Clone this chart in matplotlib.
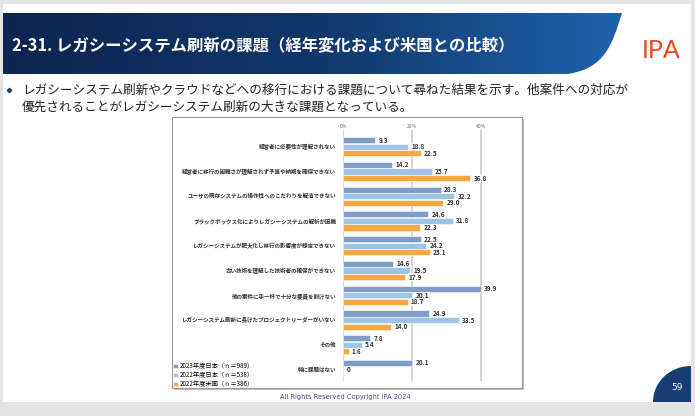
import matplotlib.pyplot as plt
import numpy as np
from matplotlib.patches import Rectangle, PathPatch, Polygon
from matplotlib.path import Path
from matplotlib.colors import LinearSegmentedColormap

plt.rcParams["font.family"] = ["Noto Sans CJK JP", "DejaVu Sans"]

# ---- data ----
categories = [
    "経営者に必要性が理解されない",
    "経営者に移行の困難さが理解されず予算や納期を確保できない",
    "ユーザの既存システムの操作性へのこだわりを解消できない",
    "ブラックボックス化によりレガシーシステムの解析が困難",
    "レガシーシステムが肥大化し移行の影響度が想定できない",
    "古い技術を理解した技術者の確保ができない",
    "他の案件に手一杯で十分な要員を割けない",
    "レガシーシステム刷新に長けたプロジェクトリーダーがいない",
    "その他",
    "特に課題はない",
]
jp_2023 = [9.3, 14.2, 28.3, 24.6, 22.5, 14.6, 39.9, 24.9, 7.8, 20.1]
jp_2022 = [18.8, 25.7, 32.2, 31.8, 24.2, 19.5, 20.1, 33.5, 5.4, 0]
us_2022 = [22.5, 36.8, 29.0, 22.3, 25.1, 17.9, 18.7, 14.0, 1.6, None]
series_labels = ["2023年度日本（ｎ＝989）", "2022年度日本（ｎ＝538）", "2022年度米国（ｎ＝386）"]
series_colors = ["#7f9dc6", "#9dc3e6", "#f4a742"]
x_ticks = [0, 20, 40]

W, H = 695, 416
fig = plt.figure(figsize=(W / 100, H / 100), dpi=100, facecolor="#e4e4e4")

# ---- slide background (pixel coords) ----
bg = fig.add_axes([0, 0, 1, 1])
bg.set_xlim(0, W)
bg.set_ylim(H, 0)
bg.axis("off")

bg.add_patch(Rectangle((3, 4), 688, 398, facecolor="white", edgecolor="none"))

# header band with curved right edge and gradient
verts = [(3, 13), (622, 13), (612, 45), (605, 68), (568, 74), (3, 74), (3, 13)]
codes = [Path.MOVETO, Path.LINETO, Path.CURVE4, Path.CURVE4, Path.CURVE4,
         Path.LINETO, Path.CLOSEPOLY]
band = PathPatch(Path(verts, codes), facecolor="none", edgecolor="none")
bg.add_patch(band)
cmap = LinearSegmentedColormap.from_list("hdr", ["#0c2550", "#113769", "#1e62ad"])
grad = np.linspace(0, 1, 256).reshape(1, -1)
im = bg.imshow(grad, cmap=cmap, extent=(3, 625, 74, 13), aspect="auto", zorder=1)
im.set_clip_path(band)

bg.text(12, 45, "2-31. レガシーシステム刷新の課題（経年変化および米国との比較）",
        color="white", fontsize=11.8, fontweight="bold", va="center", ha="left", zorder=3)
bg.text(661, 50, "IPA", color="#e8461b", fontsize=18, fontweight="normal",
        va="center", ha="center", family=["Lato", "DejaVu Sans"])

# bullet text
bg.plot(9, 90, marker="D", markersize=2.2, color="#1f3c6e")
bg.text(22, 90, "レガシーシステム刷新やクラウドなどへの移行における課題について尋ねた結果を示す。他案件への対応が",
        fontsize=9.1, color="#222222", va="center")
bg.text(22, 107, "優先されることがレガシーシステム刷新の大きな課題となっている。",
        fontsize=9.1, color="#222222", va="center")

# chart frame with shadow
bg.add_patch(Rectangle((174, 119), 350, 271, facecolor="#bdbdbd", edgecolor="none"))
bg.add_patch(Rectangle((172, 117), 350, 271, facecolor="white", edgecolor="#9a9a9a", lw=0.8))

# footer + page number
bg.text(345, 397, "All Rights Reserved Copyright IPA 2024", fontsize=4.8,
        color="#4a4a9a", ha="center", va="center", family=["DejaVu Sans"])
t = np.linspace(0, np.pi / 2, 40)
arc = [(691 - 38 * np.cos(a), 402 - 36 * np.sin(a)) for a in t]
bg.add_patch(Polygon(arc + [(691, 402)], closed=True, facecolor="#173d73", edgecolor="none"))
bg.text(677, 388, "59", color="white", fontsize=6.5, ha="center", va="center",
        family=["DejaVu Sans"])

# ---- chart ----
px = 3.45  # pixels per percent
x0, top, bottom = 343, 130, 381
ax = fig.add_axes([x0 / W, 1 - bottom / H, 45 * px / W, (bottom - top) / H])
ax.set_xlim(0, 45)
step = 24.76
y_first = 146.7
ax.set_ylim((bottom - y_first) / step, (top - y_first) / step)
ax.patch.set_alpha(0)
for s in ax.spines.values():
    s.set_visible(False)

for xv in x_ticks:
    ax.axvline(xv, color="#d0d0d0", lw=1.3, zorder=0)

pos = np.arange(len(categories))
bh = 6.2 / step
off = 6.6 / step
for k, (vals, col, lab) in enumerate(zip([jp_2023, jp_2022, us_2022], series_colors, series_labels)):
    ys = pos + (k - 1) * off
    v = np.array([np.nan if x is None else x for x in vals], dtype=float)
    ax.barh(ys, np.nan_to_num(v), height=bh, color=col, edgecolor="white",
            linewidth=0.4, label=lab, zorder=2)
    for y, val in zip(ys, v):
        if np.isnan(val):
            continue
        txt = "0" if val == 0 else f"{val:.1f}"
        ax.text(val + 1.0, y, txt, fontsize=4.6, fontweight="bold", color="#333333",
                va="center", ha="left", zorder=3,
                bbox=dict(facecolor="white", edgecolor="none", pad=0.2))

ax.set_yticks(pos)
ax.set_yticklabels(categories, fontsize=4.0, color="#333333", fontweight="bold")
ax.tick_params(axis="y", length=0, pad=5)
ax.xaxis.tick_top()
ax.set_xticks(x_ticks)
ax.set_xticklabels([f"{x}%" for x in x_ticks], fontsize=3.6, color="#666666")
ax.tick_params(axis="x", length=0, pad=1)

ax.legend(loc="upper left", bbox_to_anchor=(172 / W, 1 - 361 / H),
          bbox_transform=fig.transFigure, frameon=False, fontsize=4.5,
          handlelength=0.7, handleheight=0.7, handletextpad=0.3, labelspacing=0.15,
          borderaxespad=0, borderpad=0.2)

fig.savefig("out.png", dpi=100, facecolor=fig.get_facecolor())
